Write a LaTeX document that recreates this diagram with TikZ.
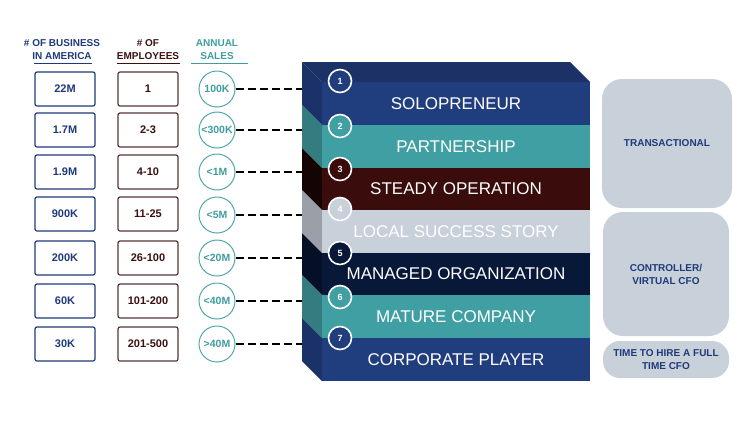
\documentclass[tikz,border=0pt]{standalone}
\usepackage{fontspec}
\setmainfont{Liberation Sans}
\usetikzlibrary{positioning}

\definecolor{hdblue}{RGB}{31,58,122}
\definecolor{hdbrown}{RGB}{58,16,16}
\definecolor{hdteal}{RGB}{63,157,160}
\definecolor{bandblue}{RGB}{32,61,126}
\definecolor{sideblue}{RGB}{27,50,104}
\definecolor{bandteal}{RGB}{64,159,162}
\definecolor{sideteal}{RGB}{52,124,127}
\definecolor{bandmaroon}{RGB}{58,12,12}
\definecolor{sidemaroon}{RGB}{20,4,4}
\definecolor{bandgrey}{RGB}{200,208,218}
\definecolor{sidegrey}{RGB}{155,160,168}
\definecolor{bandnavy}{RGB}{8,24,56}
\definecolor{sidenavy}{RGB}{5,16,38}
\definecolor{topnavy}{RGB}{28,50,102}
\definecolor{panel}{RGB}{200,208,218}

\tikzset{
  header/.style={align=center,font=\fontsize{10}{13}\selectfont\bfseries,inner sep=0.75pt},
  bizbox/.style={draw=hdblue,line width=1.2pt,rounded corners=2pt,minimum width=60pt,minimum height=34pt,text=hdblue,font=\fontsize{11}{13}\selectfont\bfseries},
  empbox/.style={draw=hdbrown!85,line width=1.2pt,rounded corners=2pt,minimum width=60pt,minimum height=34pt,text=hdbrown,font=\fontsize{11}{13}\selectfont\bfseries},
  salesdot/.style={circle,draw=hdteal!90,line width=1pt,minimum size=36pt,inner sep=0pt,text=hdteal,font=\fontsize{10.5}{12}\selectfont\bfseries},
  leader/.style={line width=2.2pt,dash pattern=on 8pt off 4pt},
  bandtext/.style={text=white,font=\fontsize{17}{20}\selectfont},
  stepdot/.style={circle,draw=white,line width=1.6pt,minimum size=23pt,inner sep=0pt,text=white,font=\fontsize{9}{10}\selectfont\bfseries},
  panelbox/.style={fill=panel,text=hdblue,align=center,font=\fontsize{10}{13}\selectfont\bfseries}
}

\begin{document}
\begin{tikzpicture}[x=1pt,y=1pt,yscale=-1,xscale=1]
\useasboundingbox (0,0) rectangle (750,421);

% Column headers
\node [header,text=hdblue] (hbiz) at (62,49.5) {\# OF BUSINESS\\IN AMERICA};
\node [header,text=hdbrown] (hemp) at (148,49.5) {\# OF\\EMPLOYEES};
\node [header,text=hdteal] (hsal) at (217,49.5) {ANNUAL\\SALES};
\draw [hdblue,line width=0.8pt] (33.5,63.5) -- (91.5,63.5) ;
\draw [hdbrown,line width=0.8pt] (117,63.5) -- (180,63.5) ;
\draw [hdteal,line width=0.8pt] (191,63.5) -- (248,63.5) ;

% Business boxes
\node [bizbox] (b1) at (65,89) {22M};
\node [bizbox] (b2) at (65,130) {1.7M};
\node [bizbox] (b3) at (65,172) {1.9M};
\node [bizbox] (b4) at (65,214) {900K};
\node [bizbox] (b5) at (65,258) {200K};
\node [bizbox] (b6) at (65,301) {60K};
\node [bizbox] (b7) at (65,344) {30K};

% Employee boxes
\node [empbox] (e1) at (148,89) {1};
\node [empbox] (e2) at (148,130) {2-3};
\node [empbox] (e3) at (148,172) {4-10};
\node [empbox] (e4) at (148,214) {11-25};
\node [empbox] (e5) at (148,258) {26-100};
\node [empbox] (e6) at (148,301) {101-200};
\node [empbox] (e7) at (148,344) {201-500};

% Sales circles
\node [salesdot] (s1) at (217,89) {100K};
\node [salesdot] (s2) at (217,130) {<300K};
\node [salesdot] (s3) at (217,172) {<1M};
\node [salesdot] (s4) at (217,215) {<5M};
\node [salesdot] (s5) at (217,258) {<20M};
\node [salesdot] (s6) at (217,301) {<40M};
\node [salesdot] (s7) at (217,344) {>40M};

% Block top face
\fill [topnavy] (302,62) -- (570,62) -- (590,82) -- (322,82) -- cycle ;

% Block side faces
\fill [sideblue] (302,62) -- (322,82) -- (322,125) -- (302,105) -- cycle ;
\fill [sideteal] (302,105) -- (322,125) -- (322,168) -- (302,148) -- cycle ;
\fill [sidemaroon] (302,148) -- (322,168) -- (322,210) -- (302,190) -- cycle ;
\fill [sidegrey] (302,190) -- (322,210) -- (322,253) -- (302,233) -- cycle ;
\fill [sidenavy] (302,233) -- (322,253) -- (322,295) -- (302,275) -- cycle ;
\fill [sideteal] (302,275) -- (322,295) -- (322,338) -- (302,318) -- cycle ;
\fill [sideblue] (302,318) -- (322,338) -- (322,381) -- (302,361) -- cycle ;

% Block front bands
\fill [bandblue] (322,82) rectangle (590,125) ;
\fill [bandteal] (322,125) rectangle (590,168) ;
\fill [bandmaroon] (322,168) rectangle (590,210) ;
\fill [bandgrey] (322,210) rectangle (590,253) ;
\fill [bandnavy] (322,253) rectangle (590,295) ;
\fill [bandteal] (322,295) rectangle (590,338) ;
\fill [bandblue] (322,338) rectangle (590,381) ;

% Band labels
\node [bandtext] (l1) at (456,104) {SOLOPRENEUR};
\node [bandtext] (l2) at (456,147) {PARTNERSHIP};
\node [bandtext] (l3) at (456,189) {STEADY OPERATION};
\node [bandtext] (l4) at (456,232) {LOCAL SUCCESS STORY};
\node [bandtext] (l5) at (456,274) {MANAGED ORGANIZATION};
\node [bandtext] (l6) at (456,317) {MATURE COMPANY};
\node [bandtext] (l7) at (456,360) {CORPORATE PLAYER};

% Step numbers
\node [stepdot,fill=bandblue] (n1) at (340,81) {1};
\node [stepdot,fill=bandteal] (n2) at (340,126) {2};
\node [stepdot,fill=bandmaroon] (n3) at (340,169) {3};
\node [stepdot,fill=bandgrey] (n4) at (340,209) {4};
\node [stepdot,fill=bandnavy] (n5) at (340,253) {5};
\node [stepdot,fill=bandteal] (n6) at (340,297) {6};
\node [stepdot,fill=bandblue] (n7) at (340,338) {7};

% Leader ends on the block side
\coordinate (t1) at (302,89);
\coordinate (t2) at (302,130);
\coordinate (t3) at (302,172);
\coordinate (t4) at (302,215);
\coordinate (t5) at (302,258);
\coordinate (t6) at (302,301);
\coordinate (t7) at (302,344);
\draw [leader] (s1) -- (t1) ;
\draw [leader] (s2) -- (t2) ;
\draw [leader] (s3) -- (t3) ;
\draw [leader] (s4) -- (t4) ;
\draw [leader] (s5) -- (t5) ;
\draw [leader] (s6) -- (t6) ;
\draw [leader] (s7) -- (t7) ;

% Right panels
\node [panelbox,rounded corners=20pt,minimum width=130pt,minimum height=129pt] (p1) at (667,143.5) {TRANSACTIONAL};
\node [panelbox,rounded corners=20pt,minimum width=126pt,minimum height=124pt] (p2) at (666,274) {CONTROLLER/\\VIRTUAL CFO};
\node [panelbox,rounded corners=17pt,minimum width=126pt,minimum height=37pt,inner sep=1pt] (p3) at (666,359.5) {TIME TO HIRE A FULL\\TIME CFO};

\end{tikzpicture}
\end{document}
